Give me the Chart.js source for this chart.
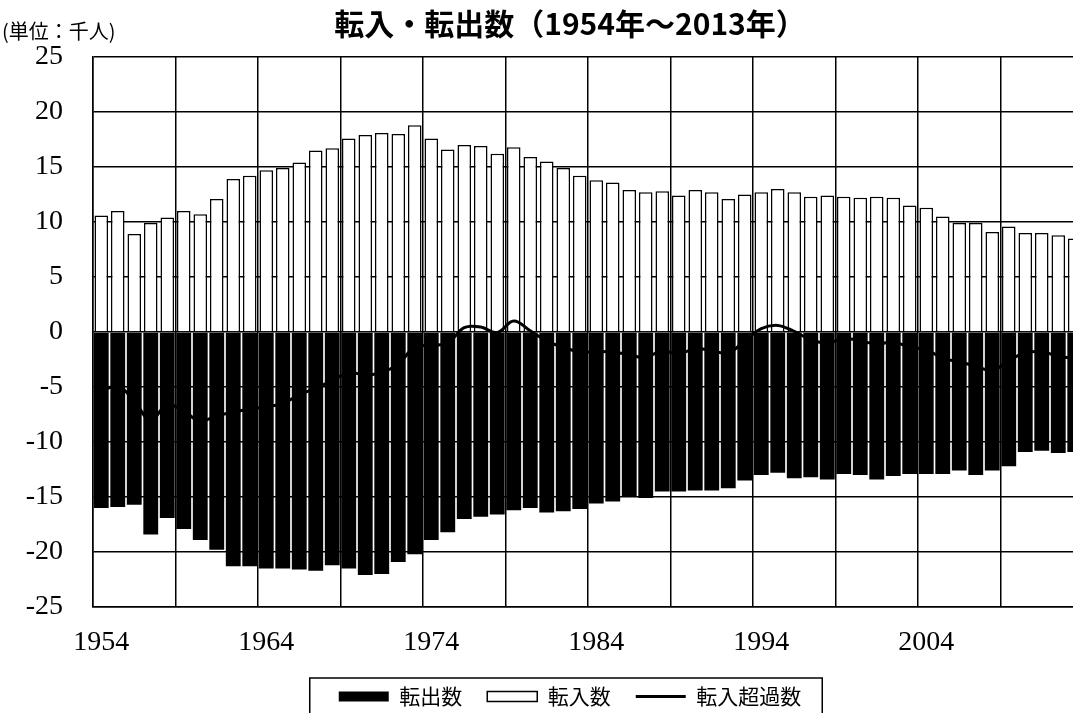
<!DOCTYPE html>
<html>
<head>
<meta charset="utf-8">
<script src="https://cdn.jsdelivr.net/npm/chart.js@4/dist/chart.umd.min.js"></script>
<style>
  html, body { margin: 0; padding: 0; background: #fff; overflow: hidden; }
  #wrap { width: 1140px; height: 717px; }
</style>
</head>
<body>
<div id="wrap"><canvas id="chart" width="1140" height="717"></canvas></div>
<script>
// 年 (category labels)
const years = [
  '1954','1955','1956','1957','1958','1959','1960','1961','1962','1963',
  '1964','1965','1966','1967','1968','1969','1970','1971','1972','1973',
  '1974','1975','1976','1977','1978','1979','1980','1981','1982','1983',
  '1984','1985','1986','1987','1988','1989','1990','1991','1992','1993',
  '1994','1995','1996','1997','1998','1999','2000','2001','2002','2003',
  '2004','2005','2006','2007','2008','2009','2010','2011','2012','2013'
];

// 転出数 (千人, negative)
const outflow = [
  -16.0, -15.9, -15.7, -18.4, -16.9, -17.9, -18.9, -19.8, -21.3, -21.3,
  -21.5, -21.5, -21.6, -21.7, -21.2, -21.5, -22.1, -22.0, -20.9, -20.2,
  -18.9, -18.2, -17.0, -16.8, -16.6, -16.2, -16.0, -16.4, -16.3, -16.1,
  -15.6, -15.4, -15.0, -15.1, -14.5, -14.5, -14.4, -14.4, -14.2, -13.5,
  -13.0, -12.8, -13.3, -13.2, -13.4, -12.9, -13.0, -13.4, -13.1, -12.9,
  -12.9, -12.9, -12.6, -13.0, -12.6, -12.2, -10.9, -10.8, -11.0, -10.9
];

// 転入数 (千人)
const inflow = [
  10.6, 11.0, 8.9, 9.9, 10.4, 11.0, 10.7, 12.1, 13.9, 14.2,
  14.7, 14.9, 15.4, 16.5, 16.7, 17.6, 17.9, 18.1, 18.0, 18.8,
  17.6, 16.6, 17.0, 16.9, 16.2, 16.8, 15.9, 15.5, 14.9, 14.2,
  13.8, 13.6, 12.9, 12.7, 12.8, 12.4, 12.9, 12.7, 12.1, 12.5,
  12.7, 13.0, 12.7, 12.3, 12.4, 12.3, 12.2, 12.3, 12.2, 11.5,
  11.3, 10.5, 9.9, 9.9, 9.1, 9.6, 9.0, 9.0, 8.8, 8.5
];

// 転入超過数 (千人)
const netInflow = [
  -5.4, -4.9, -6.3, -8.0, -6.6, -7.2, -8.1, -7.6, -7.3, -7.0,
  -6.8, -6.5, -5.7, -5.1, -4.4, -3.7, -3.9, -3.7, -2.9, -1.4,
  -1.2, -1.0, 0.4, 0.45, -0.05, 1.0, 0.1, -0.8, -1.4, -1.8,
  -1.8, -1.8, -2.1, -2.3, -1.7, -2.0, -1.5, -1.7, -1.9, -0.8,
  0.3, 0.6, 0.05, -0.7, -1.0, -0.6, -0.8, -1.1, -0.9, -1.4,
  -1.6, -2.4, -2.7, -3.1, -3.5, -2.6, -1.9, -1.8, -2.2, -2.4
];

const yTicks = [-25, -20, -15, -10, -5, 0, 5, 10, 15, 20, 25];

const titleText = '転入・転出数（1954年～2013年）';
const unitText = '(単位：千人)';

const serif = '"Liberation Serif", "DejaVu Serif", serif';
const gothic = '"Noto Sans CJK JP", "Noto Sans", sans-serif';

// unit label and box round the legend
const extras = {
  id: 'extras',
  afterDraw(chart) {
    const ctx = chart.ctx;
    ctx.save();
    ctx.fillStyle = '#000';
    ctx.font = '20px ' + gothic;
    ctx.textAlign = 'left';
    ctx.textBaseline = 'middle';
    ctx.fillText(unitText, 2, 31);

    const boxes = chart.legend.legendHitBoxes;
    if (boxes && boxes.length) {
      const first = boxes[0];
      const last = boxes[boxes.length - 1];
      const left = first.left - 29;
      const right = last.left + last.width + 21;
      const top = chart.legend.top + 17;
      ctx.strokeStyle = '#000';
      ctx.lineWidth = 1.5;
      ctx.strokeRect(left, top, right - left, chart.height - top + 10);
    }
    ctx.restore();
  }
};

new Chart(document.getElementById('chart'), {
  type: 'bar',
  data: {
    labels: years,
    datasets: [
      {
        label: '転出数',
        data: outflow,
        backgroundColor: '#000',
        borderWidth: 0,
        barPercentage: 0.9,
        categoryPercentage: 1
      },
      {
        label: '転入数',
        data: inflow,
        backgroundColor: '#fff',
        borderColor: '#000',
        borderWidth: 1.5,
        barPercentage: 0.82,
        categoryPercentage: 1
      },
      {
        type: 'line',
        label: '転入超過数',
        data: netInflow,
        borderColor: '#000',
        borderWidth: 3,
        tension: 0.4,
        pointRadius: 0,
        order: -1
      }
    ]
  },
  options: {
    responsive: false,
    devicePixelRatio: 1,
    animation: false,
    layout: { padding: 0 },
    plugins: {
      title: {
        display: true,
        text: titleText,
        color: '#000',
        font: { family: gothic, size: 30, weight: 'bold' },
        padding: { top: 6, bottom: 15 }
      },
      legend: {
        position: 'bottom',
        labels: {
          color: '#000',
          font: { family: gothic, size: 21 },
          usePointStyle: true,
          pointStyleWidth: 50,
          boxHeight: 10,
          padding: 25,
          generateLabels(chart) {
            return chart.data.datasets.map((ds, i) => ({
              text: ds.label,
              datasetIndex: i,
              fillStyle: ds.type === 'line' ? '#000' : ds.backgroundColor,
              strokeStyle: '#000',
              lineWidth: ds.type === 'line' ? 3 : ds.borderWidth,
              pointStyle: ds.type === 'line' ? 'line' : 'rect',
              fontColor: '#000',
              hidden: false
            }));
          }
        }
      },
      tooltip: { enabled: false }
    },
    scales: {
      x: {
        stacked: true,
        grid: {
          color: c => (c.index % 5 === 0 ? '#000' : 'rgba(0,0,0,0)'),
          lineWidth: 1.5,
          drawTicks: false
        },
        border: { color: '#000', width: 1.5 },
        ticks: {
          autoSkip: false,
          maxRotation: 0,
          padding: 19,
          color: '#000',
          font: { family: serif, size: 28 },
          callback: (v, i) => (i % 10 === 0 ? years[i] : '')
        },
        afterFit(scale) { scale.height = 54; }
      },
      y: {
        min: -25,
        max: 25,
        afterBuildTicks(scale) { scale.ticks = yTicks.map(v => ({ value: v })); },
        grid: { color: '#000', lineWidth: 1.5, drawTicks: false },
        border: { color: '#000', width: 1.5 },
        ticks: {
          padding: 30,
          color: '#000',
          font: { family: serif, size: 28 }
        },
        afterFit(scale) { scale.width = 93; }
      },
      // empty right-hand strip: the original chart runs on past the picture edge
      yRight: {
        position: 'right',
        grid: { display: false, drawTicks: false },
        border: { display: false },
        ticks: { display: false },
        afterFit(scale) { scale.width = 57; }
      }
    }
  },
  plugins: [extras]
});
</script>
</body>
</html>
